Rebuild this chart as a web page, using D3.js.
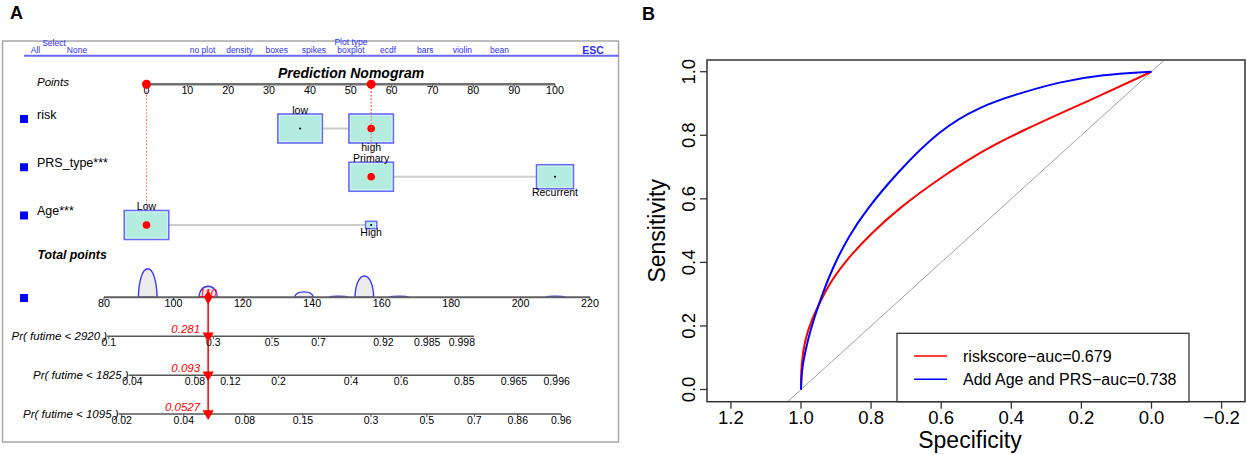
<!DOCTYPE html>
<html>
<head>
<meta charset="utf-8">
<script src="https://cdn.jsdelivr.net/npm/d3@7"></script>
<style>
body { margin: 0; background: #fff; }
svg { font-family: "Liberation Sans", Arial, sans-serif; }
</style>
</head>
<body>
<div id="chart-area"></div>
<script>
// ---------- data: nomogram ----------
const selectItems = ["All", "None"]
const plotTypes = ["no plot", "density", "boxes", "spikes", "boxplot", "ecdf", "bars", "violin", "bean"]
const pointTicks = [0, 10, 20, 30, 40, 50, 60, 70, 80, 90, 100]
const varNames = ["risk", "PRS_type***", "Age***"]
const levelNames = [["low", "high"], ["Primary", "Recurrent"], ["Low", "High"]]
const levelPoints = [[37.6, 55], [55, 100], [0, 55]]
const levelFreq = [[1, 1], [1, 0.83], [1, 0.25]]   // relative share of patients (box size)
const chosenLevel = [1, 0, 0]
const totalTicks = [80, 100, 120, 140, 160, 180, 200, 220]
const totalScore = 110
const humpCenters = [92.6, 110, 137.6, 147.6, 155, 165, 210]
const humpDensity = [1, 0.39, 0.19, 0.035, 0.75, 0.035, 0.035]
const probNames = ["Pr( futime < 2920 )", "Pr( futime < 1825 )", "Pr( futime < 1095 )"]
const probTickLabels = [
    ["0.1", "0.3", "0.5", "0.7", "0.92", "0.985", "0.998"],
    ["0.04", "0.08", "0.12", "0.2", "0.4", "0.6", "0.85", "0.965", "0.996"],
    ["0.02", "0.04", "0.08", "0.15", "0.3", "0.5", "0.7", "0.86", "0.96"]
]
// where each probability tick sits on the total points scale
const probTickPoints = [
    [81.4, 111.5, 128.4, 141.8, 160.5, 173.1, 183.1],
    [88.2, 106.2, 116.4, 130.3, 151.2, 165.6, 183.8, 198.1, 210.4],
    [85.1, 103.0, 120.6, 137.3, 156.9, 173.0, 186.7, 199.2, 211.7]
]
const probRange = [[80.9, 186.6], [87.1, 210.5], [84.2, 211.7]]
const probValues = ["0.281", "0.093", "0.0527"]

// ---------- data: ROC ----------
const rocTicksX = [1.2, 1.0, 0.8, 0.6, 0.4, 0.2, 0.0, -0.2]
const rocTicksY = [0.0, 0.2, 0.4, 0.6, 0.8, 1.0]
const riskSpec = [1, 0.9996, 0.9994, 0.99, 0.966, 0.949, 0.919, 0.871, 0.805, 0.719, 0.605, 0.491, 0.377, 0.148, 0]
const riskSens = [0, 0.03, 0.072, 0.156, 0.229, 0.266, 0.334, 0.407, 0.486, 0.572, 0.664, 0.746, 0.811, 0.924, 1]
const addSpec = [1, 0.999, 0.9966, 0.981, 0.961, 0.942, 0.909, 0.862, 0.814, 0.728, 0.605, 0.491, 0.377, 0.262, 0.148, 0]
const addSens = [0, 0.03, 0.072, 0.156, 0.229, 0.292, 0.386, 0.486, 0.565, 0.68, 0.817, 0.89, 0.932, 0.968, 0.99, 1]
const legendLabels = ["riskscore\u2212auc=0.679", "Add Age and PRS\u2212auc=0.738"]
const curveColors = ["#ff0000", "#0000ff"]

const svg = d3.select("#chart-area").append("svg")
    .attr("width", 1247)
    .attr("height", 455)

svg.append("rect").attr("width", 1247).attr("height", 455).attr("fill", "#fff")

// panel letters
svg.append("text").attr("x", 10).attr("y", 19).attr("font-size", "18px").attr("font-weight", "bold").text("A")
svg.append("text").attr("x", 642).attr("y", 20).attr("font-size", "18px").attr("font-weight", "bold").text("B")

// ================= Panel A : nomogram =================
const A = svg.append("g")

A.append("rect")
    .attr("x", 2.5).attr("y", 41).attr("width", 616).attr("height", 401)
    .attr("fill", "none").attr("stroke", "#a8a8a8").attr("stroke-width", 1.5)

// menu bar
const menuBlue = "#3030ff"
const xSelect = d3.scalePoint().domain(selectItems).range([35.5, 77])
A.selectAll(".sel").data(selectItems).enter().append("text")
    .attr("x", d => xSelect(d)).attr("y", 52.5)
    .attr("text-anchor", "middle").attr("font-size", "8.5px").attr("fill", menuBlue)
    .text(d => d)
A.append("text").attr("x", 54).attr("y", 46).attr("text-anchor", "middle")
    .attr("font-size", "8.5px").attr("fill", menuBlue).text("Select")

const xType = d3.scalePoint().domain(plotTypes).range([202.5, 499.5])
A.selectAll(".ptype").data(plotTypes).enter().append("text")
    .attr("x", d => xType(d)).attr("y", 52.5)
    .attr("text-anchor", "middle").attr("font-size", "8.5px").attr("fill", menuBlue)
    .text(d => d)
A.append("text").attr("x", xType("boxplot")).attr("y", 45).attr("text-anchor", "middle")
    .attr("font-size", "8.5px").attr("fill", menuBlue).text("Plot type")
A.append("text").attr("x", 593).attr("y", 53.5).attr("text-anchor", "middle")
    .attr("font-size", "10.5px").attr("font-weight", "bold").attr("fill", menuBlue).text("ESC")
A.append("line").attr("x1", 24).attr("x2", 619).attr("y1", 55.7).attr("y2", 55.7)
    .attr("stroke", "#6a6aff").attr("stroke-width", 2)

// title
A.append("text").attr("x", 351).attr("y", 77.5).attr("text-anchor", "middle")
    .attr("font-size", "14px").attr("font-weight", "bold").attr("font-style", "italic")
    .text("Prediction Nomogram")

// Points axis
const xP = d3.scaleLinear().domain([0, 100]).range([146.5, 555])
const yPts = 84.3
A.append("text").attr("x", 37).attr("y", 86).attr("font-size", "11.5px").attr("font-style", "italic").text("Points")
A.append("line").attr("x1", xP(0)).attr("x2", xP(100)).attr("y1", yPts).attr("y2", yPts)
    .attr("stroke", "#707070").attr("stroke-width", 2.5)
A.selectAll(".ptick").data(pointTicks).enter().append("line")
    .attr("x1", d => xP(d)).attr("x2", d => xP(d)).attr("y1", yPts).attr("y2", yPts + 3)
    .attr("stroke", "#555").attr("stroke-width", 1)
A.selectAll(".plab").data(pointTicks).enter().append("text")
    .attr("x", d => xP(d)).attr("y", 94).attr("text-anchor", "middle").attr("font-size", "10.7px")
    .text(d => d)

// variable rows
const yRow = d3.scalePoint().domain(varNames).range([128.5, 225])
const boxW = d3.scaleLinear().domain([0, 1]).range([0, 44.5])
const boxH = d3.scaleLinear().domain([0, 1]).range([0, 29])

varNames.forEach((name, i) => {
    const y = yRow(name)
    const pts = levelPoints[i]
    const chosen = pts[chosenLevel[i]]

    A.append("rect").attr("x", 20).attr("y", y - 13.5).attr("width", 8).attr("height", 8).attr("fill", "#0000ff")
    A.append("text").attr("x", 37).attr("y", y - 10).attr("font-size", "12.5px").text(name)

    // dotted guide up to the points axis
    A.append("line")
        .attr("x1", xP(chosen)).attr("x2", xP(chosen)).attr("y1", yPts).attr("y2", y)
        .attr("stroke", "#ff6060").attr("stroke-width", 1).attr("stroke-dasharray", "1.5,2")

    A.append("line")
        .attr("x1", xP(d3.min(pts))).attr("x2", xP(d3.max(pts))).attr("y1", y).attr("y2", y)
        .attr("stroke", "#cccccc").attr("stroke-width", 2)

    pts.forEach((p, j) => {
        const w = boxW(levelFreq[i][j]), h = boxH(levelFreq[i][j])
        A.append("rect")
            .attr("x", xP(p) - w / 2).attr("y", y - h / 2).attr("width", w).attr("height", h)
            .attr("fill", "#b4ece0").attr("stroke", "#6a6aff").attr("stroke-width", 1.6)
        A.append("rect")
            .attr("x", xP(p) - w / 2 + 1.5).attr("y", y - h / 2 + 1.5)
            .attr("width", Math.max(w - 3, 0)).attr("height", Math.max(h - 3, 0))
            .attr("fill", "none").attr("stroke", "#d8f6ef").attr("stroke-width", 0.8)
        A.append("text")
            .attr("x", xP(p)).attr("y", j === 0 ? y - h / 2 - 0.5 : y + h / 2 + 7.5)
            .attr("text-anchor", "middle").attr("font-size", "10.5px")
            .text(levelNames[i][j])
        if (j === chosenLevel[i]) {
            A.append("circle").attr("cx", xP(p)).attr("cy", y).attr("r", 3.8).attr("fill", "#ff0000")
        } else {
            A.append("circle").attr("cx", xP(p)).attr("cy", y).attr("r", 1.1).attr("fill", "#000")
        }
    })
})

// red dots on the points axis
const chosenPoints = Array.from(new Set(varNames.map((d, i) => levelPoints[i][chosenLevel[i]])))
A.selectAll(".pdot").data(chosenPoints).enter().append("circle")
    .attr("cx", d => xP(d)).attr("cy", yPts).attr("r", 4.5).attr("fill", "#ff0000")

// Total points axis
const xT = d3.scaleLinear().domain([80, 220]).range([104, 590])
const yTot = 297.3
const humpH = d3.scaleLinear().domain([0, 1]).range([0, 28.5])
const hw = 2.7

A.append("text").attr("x", 37.5).attr("y", 258.5).attr("font-size", "12.3px")
    .attr("font-weight", "bold").attr("font-style", "italic").text("Total points")
A.append("rect").attr("x", 20).attr("y", 294).attr("width", 8).attr("height", 8).attr("fill", "#0000ff")

A.selectAll(".hump").data(humpCenters).enter().append("path")
    .attr("d", (c, i) => {
        const h = humpH(humpDensity[i])
        return `M${xT(c - hw)},${yTot}` +
            `C${xT(c - hw * 0.95)},${yTot - h * 0.6} ${xT(c - hw * 0.55)},${yTot - h} ${xT(c)},${yTot - h}` +
            `C${xT(c + hw * 0.55)},${yTot - h} ${xT(c + hw * 0.95)},${yTot - h * 0.6} ${xT(c + hw)},${yTot}Z`
    })
    .attr("fill", "#ececec").attr("stroke", "#3a3aff").attr("stroke-width", 1.4)

A.append("line").attr("x1", xT(80)).attr("x2", xT(220)).attr("y1", yTot).attr("y2", yTot)
    .attr("stroke", "#606060").attr("stroke-width", 2)
A.selectAll(".ttick").data(totalTicks).enter().append("line")
    .attr("x1", d => xT(d)).attr("x2", d => xT(d)).attr("y1", yTot).attr("y2", yTot + 3)
    .attr("stroke", "#555").attr("stroke-width", 1)
A.selectAll(".tlab").data(totalTicks).enter().append("text")
    .attr("x", d => xT(d)).attr("y", 306.5).attr("text-anchor", "middle").attr("font-size", "10.7px")
    .text(d => d)

// probability axes
const yProb = d3.scalePoint().domain(probNames).range([336.3, 414])

A.append("line")
    .attr("x1", xT(totalScore)).attr("x2", xT(totalScore)).attr("y1", yTot).attr("y2", yProb(probNames[2]) + 2)
    .attr("stroke", "#ff0000").attr("stroke-width", 1.5)

probNames.forEach((name, i) => {
    const y = yProb(name)
    A.append("line")
        .attr("x1", xT(probRange[i][0])).attr("x2", xT(probRange[i][1])).attr("y1", y).attr("y2", y)
        .attr("stroke", "#555").attr("stroke-width", 1.5)
    A.append("text").attr("x", xT(probRange[i][0])).attr("y", y + 3.5)
        .attr("text-anchor", "end").attr("font-size", "11.5px").attr("font-style", "italic").text(name)
    A.selectAll(".prt" + i).data(probTickPoints[i]).enter().append("line")
        .attr("x1", d => xT(d)).attr("x2", d => xT(d)).attr("y1", y).attr("y2", y + 3)
        .attr("stroke", "#555").attr("stroke-width", 1)
    A.selectAll(".prl" + i).data(probTickPoints[i]).enter().append("text")
        .attr("x", d => xT(d)).attr("y", y + 9.7).attr("text-anchor", "middle").attr("font-size", "10.5px")
        .text((d, j) => probTickLabels[i][j])
    A.append("path")
        .attr("d", d3.symbol(d3.symbolTriangle, 55)())
        .attr("transform", `translate(${xT(totalScore)},${y - 0.5}) rotate(180)`)
        .attr("fill", "#ff0000")
    A.append("text").attr("x", xT(totalScore) - 8).attr("y", y - 3.5)
        .attr("text-anchor", "end").attr("font-size", "11.5px").attr("font-style", "italic")
        .attr("fill", "#ff0000").text(probValues[i])
})

A.append("path")
    .attr("d", d3.symbol(d3.symbolDiamond, 60)())
    .attr("transform", `translate(${xT(totalScore)},${yTot})`)
    .attr("fill", "#ff0000")
A.append("text").attr("x", xT(totalScore)).attr("y", 296.5).attr("text-anchor", "middle")
    .attr("font-size", "11px").attr("font-style", "italic").attr("fill", "#ff0000").text(totalScore)

// ================= Panel B : ROC =================
const BOX = { LEFT: 707, RIGHT: 1245, TOP: 60, BOTTOM: 401.7 }
const xR = d3.scaleLinear().domain([1, 0]).range([801, 1151.5])
const yR = d3.scaleLinear().domain([0, 1]).range([389.5, 71.7])
const B = svg.append("g")

B.append("clipPath").attr("id", "rocClip").append("rect")
    .attr("x", BOX.LEFT).attr("y", BOX.TOP).attr("width", BOX.RIGHT - BOX.LEFT).attr("height", BOX.BOTTOM - BOX.TOP)

const plot = B.append("g").attr("clip-path", "url(#rocClip)")

// chance diagonal
plot.append("line")
    .attr("x1", xR(1.1)).attr("y1", yR(-0.1)).attr("x2", xR(-0.1)).attr("y2", yR(1.1))
    .attr("stroke", "#a0a0a0").attr("stroke-width", 1)

const rocLine = d3.line()
    .x(d => xR(d[0]))
    .y(d => yR(d[1]))
    .curve(d3.curveBasis)

const curves = [d3.zip(riskSpec, riskSens), d3.zip(addSpec, addSens)]
plot.selectAll(".roc").data(curves).enter().append("path")
    .attr("d", rocLine)
    .attr("fill", "none")
    .attr("stroke", (d, i) => curveColors[i])
    .attr("stroke-width", 2)

B.append("rect")
    .attr("x", BOX.LEFT).attr("y", BOX.TOP).attr("width", BOX.RIGHT - BOX.LEFT).attr("height", BOX.BOTTOM - BOX.TOP)
    .attr("fill", "none").attr("stroke", "#333").attr("stroke-width", 1.5)

// axes
B.selectAll(".xt").data(rocTicksX).enter().append("line")
    .attr("x1", d => xR(d)).attr("x2", d => xR(d)).attr("y1", BOX.BOTTOM).attr("y2", BOX.BOTTOM + 7)
    .attr("stroke", "#333").attr("stroke-width", 1.3)
B.selectAll(".xl").data(rocTicksX).enter().append("text")
    .attr("x", d => xR(d)).attr("y", 423.5).attr("text-anchor", "middle").attr("font-size", "18.5px")
    .text(d => d.toFixed(1).replace("-", "\u2212"))
B.selectAll(".yt").data(rocTicksY).enter().append("line")
    .attr("x1", BOX.LEFT - 7).attr("x2", BOX.LEFT).attr("y1", d => yR(d)).attr("y2", d => yR(d))
    .attr("stroke", "#333").attr("stroke-width", 1.3)
B.selectAll(".yl").data(rocTicksY).enter().append("text")
    .attr("transform", d => `translate(695, ${yR(d)}) rotate(-90)`)
    .attr("text-anchor", "middle").attr("font-size", "18.5px")
    .text(d => d.toFixed(1))

B.append("text").attr("x", 970).attr("y", 448).attr("text-anchor", "middle")
    .attr("font-size", "23px").text("Specificity")
B.append("text").attr("transform", `translate(665, ${(BOX.TOP + BOX.BOTTOM) / 2}) rotate(-90)`)
    .attr("text-anchor", "middle").attr("font-size", "23px").text("Sensitivity")

// legend
const legend = B.append("g")
legend.append("rect")
    .attr("x", 897).attr("y", 333.3).attr("width", 292).attr("height", BOX.BOTTOM - 333.3)
    .attr("fill", "#fff").attr("stroke", "#333").attr("stroke-width", 1.3)
const yLeg = d3.scalePoint().domain(legendLabels).range([356, 379.3])
legend.selectAll(".ll").data(legendLabels).enter().append("line")
    .attr("x1", 914).attr("x2", 947).attr("y1", d => yLeg(d)).attr("y2", d => yLeg(d))
    .attr("stroke", (d, i) => curveColors[i]).attr("stroke-width", 1.5)
legend.selectAll(".lt").data(legendLabels).enter().append("text")
    .attr("x", 963).attr("y", d => yLeg(d) + 5.5).attr("font-size", "16px")
    .text(d => d)
</script>
</body>
</html>
